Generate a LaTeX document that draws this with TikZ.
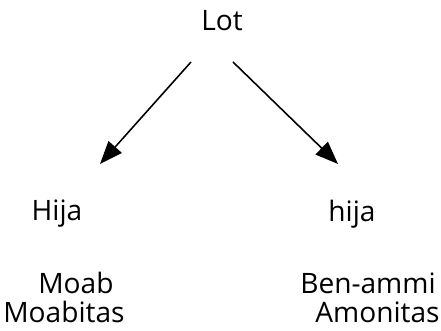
\documentclass[tikz,border=0pt]{standalone}
\usepackage{fontspec}
\setmainfont{Open Sans}
\usetikzlibrary{arrows.meta}

\begin{document}
\begin{tikzpicture}[x=0.02cm,y=-0.02cm,
  person/.style={inner sep=0pt,font=\fontsize{16pt}{19pt}\selectfont},
  link/.style={line width=0.9pt,-{Triangle[length=13pt,width=10pt]}}]
\useasboundingbox (0,0) rectangle (441,331);

\node[person] (lot) at (222,21) {Lot};
\node[person] (hija1) at (57,214) {Hija};
\node[person] (hija2) at (352,214) {hija};

\node[person,anchor=west] (moab) at (38,283) {Moab};
\node[person,anchor=west] (moabitas) at (3,312) {Moabitas};
\node[person,anchor=east] (benammi) at (436,283) {Ben-ammi};
\node[person,anchor=east] (amonitas) at (440,312) {Amonitas};

% arrows from Lot
\coordinate (lstart) at (191,62);
\coordinate (lend) at (100,164);
\coordinate (rstart) at (233,62);
\coordinate (rend) at (338,164);
\draw[link] (lstart) -- (lend);
\draw[link] (rstart) -- (rend);
\end{tikzpicture}
\end{document}
